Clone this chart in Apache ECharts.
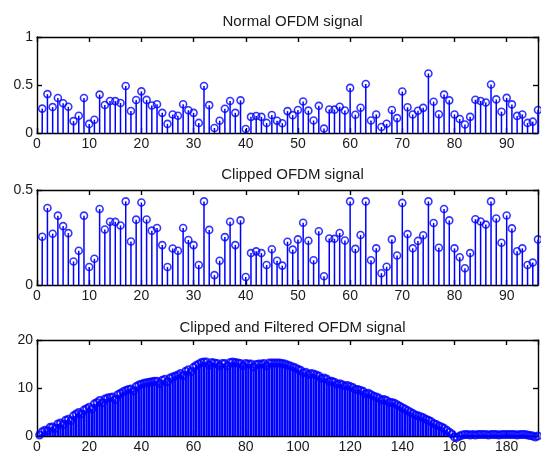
<!DOCTYPE html>
<html>
<head>
<meta charset="utf-8">
<script src="https://cdn.jsdelivr.net/npm/echarts@6/dist/echarts.min.js"></script>
<style>
html,body{margin:0;padding:0;background:#fff;}
#chart{width:541px;height:459px;}
</style>
</head>
<body>
<div id="chart"></div>
<script>
// ---- data ----
var titles = ["Normal OFDM signal", "Clipped OFDM signal", "Clipped and Filtered OFDM signal"];

var normalSignal = [
  0.254, 0.405, 0.27, 0.365, 0.31, 0.273, 0.124, 0.18, 0.365, 0.095,
  0.138, 0.40, 0.292, 0.333, 0.332, 0.313, 0.49, 0.229, 0.344, 0.434,
  0.345, 0.286, 0.30, 0.21, 0.095, 0.192, 0.18, 0.30, 0.237, 0.21,
  0.105, 0.49, 0.29, 0.052, 0.128, 0.252, 0.333, 0.21, 0.34, 0.042,
  0.168, 0.177, 0.168, 0.105, 0.188, 0.128, 0.102, 0.228, 0.186, 0.24,
  0.328, 0.233, 0.13, 0.283, 0.046, 0.245, 0.243, 0.274, 0.234, 0.47,
  0.19, 0.263, 0.51, 0.13, 0.193, 0.062, 0.096, 0.24, 0.155, 0.432,
  0.268, 0.193, 0.232, 0.262, 0.62, 0.326, 0.196, 0.40, 0.34, 0.193,
  0.146, 0.088, 0.168, 0.346, 0.334, 0.318, 0.505, 0.35, 0.222, 0.366,
  0.298, 0.178, 0.193, 0.105, 0.118, 0.24
];

var clippedSignal = [
  0.254, 0.405, 0.27, 0.365, 0.31, 0.273, 0.124, 0.18, 0.365, 0.095,
  0.138, 0.40, 0.292, 0.333, 0.332, 0.313, 0.44, 0.229, 0.344, 0.434,
  0.345, 0.286, 0.30, 0.21, 0.095, 0.192, 0.18, 0.30, 0.237, 0.21,
  0.105, 0.44, 0.29, 0.052, 0.128, 0.252, 0.333, 0.21, 0.34, 0.042,
  0.168, 0.177, 0.168, 0.105, 0.188, 0.128, 0.102, 0.228, 0.186, 0.24,
  0.328, 0.233, 0.13, 0.283, 0.046, 0.245, 0.243, 0.274, 0.234, 0.44,
  0.19, 0.263, 0.44, 0.13, 0.193, 0.062, 0.096, 0.24, 0.155, 0.432,
  0.268, 0.193, 0.232, 0.262, 0.44, 0.326, 0.196, 0.40, 0.34, 0.193,
  0.146, 0.088, 0.168, 0.346, 0.334, 0.318, 0.44, 0.35, 0.222, 0.366,
  0.298, 0.178, 0.193, 0.105, 0.118, 0.24
];

var filteredSignal = [
  0.2, 0.9, 1.2, 1.1, 1.8, 1.9, 1.6, 2.5, 2.7, 2.4,
  3.3, 3.5, 3.2, 4.2, 4.6, 4.9, 4.6, 5.4, 5.7, 6.0,
  5.6, 6.7, 7.0, 7.4, 6.9, 7.7, 7.9, 8.0, 8.1, 7.6,
  8.6, 8.9, 9.2, 9.5, 9.7, 9.8, 9.4, 10.3, 10.6, 10.8,
  11.0, 11.1, 11.2, 11.3, 11.4, 11.4, 10.9, 11.6, 11.8, 11.3,
  12.1, 12.3, 12.5, 12.7, 13.0, 12.6, 13.5, 13.8, 13.4, 14.3,
  14.7, 15.0, 15.3, 15.4, 15.4, 14.8, 15.3, 15.2, 15.1, 14.6,
  15.1, 15.1, 14.6, 15.3, 15.4, 15.3, 15.2, 15.1, 14.6, 15.1,
  15.0, 15.0, 14.4, 14.9, 15.0, 15.0, 15.1, 14.6, 15.2, 15.2,
  15.2, 15.2, 15.2, 15.1, 15.0, 14.8, 14.6, 14.4, 14.2, 13.9,
  13.7, 13.2, 13.3, 12.8, 13.0, 12.9, 12.7, 12.5, 12.0, 12.1,
  11.9, 11.4, 11.4, 11.2, 10.8, 10.9, 10.7, 10.4, 10.5, 10.3,
  10.1, 9.7, 9.7, 9.5, 9.3, 8.8, 8.9, 8.6, 8.3, 8.1,
  7.9, 7.5, 7.6, 7.4, 7.0, 7.0, 6.8, 6.5, 6.2, 5.9,
  5.6, 5.3, 5.0, 4.7, 4.4, 4.2, 4.0, 3.8, 3.5, 3.3,
  3.0, 2.6, 2.4, 2.1, 1.9, 1.6, 1.2, 0.8, 0.4, -0.2,
  -0.3, 0.0, 0.2, 0.3, 0.3, 0.2, 0.3, 0.2, 0.3, 0.3,
  0.3, 0.3, 0.2, 0.3, 0.3, 0.3, 0.2, 0.3, 0.3, 0.3,
  0.3, 0.3, 0.3, 0.2, 0.3, 0.3, 0.3, 0.2, 0.1, 0.0,
  -0.2, 0.0
];

var xTicks1 = [0, 10, 20, 30, 40, 50, 60, 70, 80, 90];
var yTicks1 = [0, 0.5, 1];
var yTicks2 = [0, 0.5];
var xTicks3 = [0, 20, 40, 60, 80, 100, 120, 140, 160, 180];
var yTicks3 = [0, 10, 20];

// ---- build ----
function pairs(arr) {
  return arr.map(function (v, i) { return [i + 1, v]; });
}

var BLUE = '#0000ff';
var TXT = '#1a1a1a';
var FONT = 'Liberation Sans, Arial, sans-serif';

var grids = [
  { left: 37, right: 3, top: 37, height: 96 },
  { left: 37, right: 3, top: 190, height: 95 },
  { left: 37, right: 3, top: 340, height: 96 }
];

function xAx(gi, max, interval, pos, showLabel) {
  return {
    type: 'value', gridIndex: gi, min: 0, max: max, interval: interval, position: pos,
    axisLine: { show: true, onZero: false, lineStyle: { color: '#000', width: 1.4 } },
    axisTick: { show: true, inside: true, length: 5, lineStyle: { color: '#000', width: 1.4 } },
    axisLabel: { show: showLabel, color: TXT, fontSize: 14, fontFamily: FONT, margin: 4,
      showMaxLabel: false },
    splitLine: { show: false }
  };
}
function yAx(gi, max, interval, pos, showLabel) {
  return {
    type: 'value', gridIndex: gi, min: 0, max: max, interval: interval, position: pos,
    axisLine: { show: true, onZero: false, lineStyle: { color: '#000', width: 1.4 } },
    axisTick: { show: true, inside: true, length: 5, lineStyle: { color: '#000', width: 1.4 } },
    axisLabel: { show: showLabel, color: TXT, fontSize: 14, fontFamily: FONT, margin: 4 },
    splitLine: { show: false }
  };
}

var xAxes = [
  xAx(0, 96, 10, 'bottom', true), xAx(0, 96, 10, 'top', false),
  xAx(1, 96, 10, 'bottom', true), xAx(1, 96, 10, 'top', false),
  xAx(2, 192, 20, 'bottom', true), xAx(2, 192, 20, 'top', false)
];
var yAxes = [
  yAx(0, 1, 0.5, 'left', true), yAx(0, 1, 0.5, 'right', false),
  yAx(1, 0.5, 0.5, 'left', true), yAx(1, 0.5, 0.5, 'right', false),
  yAx(2, 20, 10, 'left', true), yAx(2, 20, 10, 'right', false)
];

var signals = [normalSignal, clippedSignal, filteredSignal];
var series = [];
signals.forEach(function (sig, gi) {
  var d = pairs(sig);
  series.push({
    type: 'scatter', xAxisIndex: gi * 2, yAxisIndex: gi * 2, data: d,
    symbol: 'circle', symbolSize: 7, clip: false, z: 2, silent: true,
    itemStyle: { color: 'rgba(255,255,255,0)', borderColor: BLUE, borderWidth: gi === 2 ? 2 : 1.6 }
  });
  series.push({
    type: 'bar', xAxisIndex: gi * 2, yAxisIndex: gi * 2, data: d,
    barWidth: gi === 2 ? 2.4 : 1.5, z: 3, silent: true,
    itemStyle: { color: BLUE }
  });
});

var titleTops = [9, 162, 315];
var titleOpts = titles.map(function (t, i) {
  return {
    text: t, left: 287.5, top: titleTops[i], textAlign: 'center',
    textStyle: { fontSize: 15, fontWeight: 'normal', color: TXT, fontFamily: FONT }
  };
});

var chart = echarts.init(document.getElementById('chart'), null, { renderer: 'canvas' });
chart.setOption({
  animation: false,
  backgroundColor: '#fff',
  title: titleOpts,
  grid: grids,
  xAxis: xAxes,
  yAxis: yAxes,
  series: series
});
</script>
</body>
</html>
